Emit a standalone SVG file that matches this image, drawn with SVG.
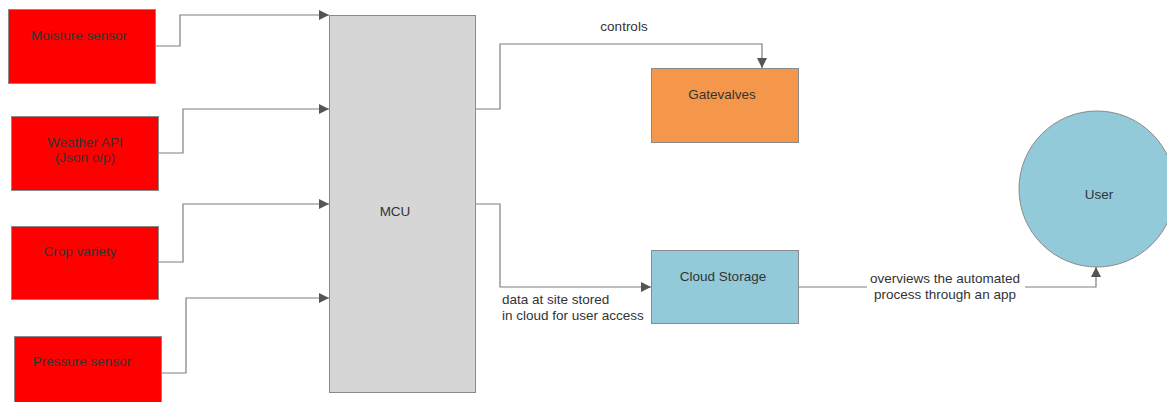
<svg xmlns="http://www.w3.org/2000/svg" width="1167" height="402" viewBox="0 0 1167 402">
  <style>
    .box { stroke: #8a8a8a; stroke-width: 1; }
    .src { fill: #ff0000; }
    .mcu { fill: #d6d6d6; }
    .valve { fill: #f5974a; }
    .cloud { fill: #92cad9; }
    .lbl { font-family: "Liberation Sans", Arial, sans-serif; font-size: 13.5px; fill: #333333; text-anchor: middle; }
    .edge { font-family: "Liberation Sans", Arial, sans-serif; font-size: 13.5px; fill: #333333; }
    .wire { fill: none; stroke: #7f7f7f; stroke-width: 1.2; marker-end: url(#arrow); }
  </style>
  <defs>
    <marker id="arrow" viewBox="0 0 10 10" refX="10" refY="5" markerWidth="10" markerHeight="10" markerUnits="userSpaceOnUse" orient="auto">
      <path d="M0,0 L10,5 L0,10 Z" fill="#555555"/>
    </marker>
  </defs>
  <rect width="1167" height="402" fill="#ffffff"/>

  <g id="connectors">
    <path class="wire" d="M155,46 H180 V15 H329"/>
    <path class="wire" d="M158,153 H183 V109 H329"/>
    <path class="wire" d="M158,262 H183 V204 H329"/>
    <path class="wire" d="M162,373 H186 V298 H329"/>
    <path class="wire" d="M475,109 H500 V44 H762 V68"/>
    <path class="wire" d="M475,204 H500 V287 H651"/>
    <path class="wire" d="M798,287 H1096 V267"/>
    <rect x="867" y="269" width="158" height="33" fill="#ffffff"/>
    <text class="lbl" x="624" y="31">controls</text>
    <text class="edge" x="502" y="304">data at site stored</text>
    <text class="edge" x="502" y="320">in cloud for user access</text>
    <text class="lbl" x="945" y="283">overviews the automated</text>
    <text class="lbl" x="945" y="299">process through an app</text>
  </g>

  <g id="moisture-sensor">
    <rect class="box src" x="8.5" y="9.5" width="147" height="74"/>
    <text class="lbl" x="79" y="40">Moisture sensor</text>
  </g>
  <g id="weather-api">
    <rect class="box src" x="11.5" y="116.5" width="147" height="74"/>
    <text class="lbl" x="85" y="147">Weather API</text>
    <text class="lbl" x="85" y="162">(Json o/p)</text>
  </g>
  <g id="crop-variety">
    <rect class="box src" x="11.5" y="226.5" width="147" height="73"/>
    <text class="lbl" x="80" y="256">Crop variety</text>
  </g>
  <g id="pressure-sensor">
    <rect class="box src" x="14.5" y="336.5" width="147" height="74"/>
    <text class="lbl" x="82" y="366">Pressure sensor</text>
  </g>
  <g id="mcu">
    <rect class="box mcu" x="329.5" y="15.5" width="146" height="377"/>
    <text class="lbl" x="395" y="216">MCU</text>
  </g>
  <g id="gatevalves">
    <rect class="box valve" x="651.5" y="68.5" width="147" height="74"/>
    <text class="lbl" x="722" y="99">Gatevalves</text>
  </g>
  <g id="cloud-storage">
    <rect class="box cloud" x="651.5" y="250.5" width="147" height="73"/>
    <text class="lbl" x="723" y="281">Cloud Storage</text>
  </g>
  <g id="user">
    <circle class="box cloud" cx="1097" cy="189" r="78"/>
    <text class="lbl" x="1099" y="199">User</text>
  </g>
</svg>
